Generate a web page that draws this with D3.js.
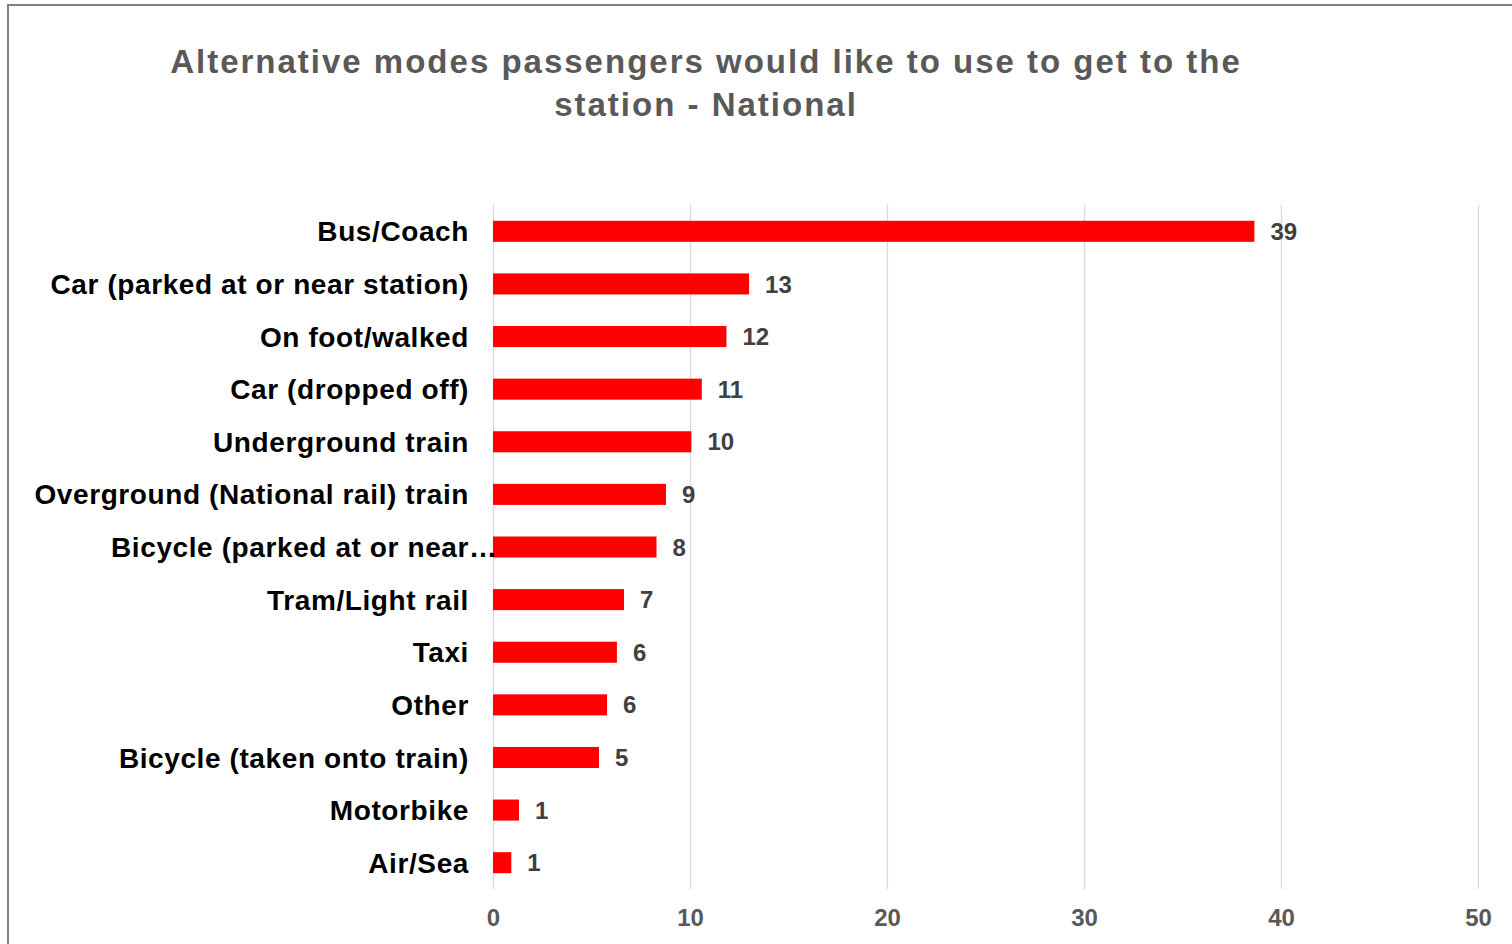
<!DOCTYPE html>
<html>
<head>
<meta charset="utf-8">
<script src="https://cdn.jsdelivr.net/npm/d3@7"></script>
<style>
  html, body { margin: 0; padding: 0; background: #fff; overflow: hidden; }
  svg { display: block; font-family: "Liberation Sans", Arial, sans-serif; }
  .grid line { stroke: #d9d9d9; stroke-width: 1.3; }
  .grid .domain { display: none; }
  .xaxis .domain, .xaxis line { display: none; }
  .xaxis text { font-size: 24px; font-weight: bold; fill: #595959; }
</style>
</head>
<body>
<svg id="chart" width="1512" height="944"></svg>
<script>
// chart data (labels show rounded values)
const categories = [
  "Bus/Coach",
  "Car (parked at or near station)",
  "On foot/walked",
  "Car (dropped off)",
  "Underground train",
  "Overground (National rail) train",
  "Bicycle (parked at or near station)",
  "Tram/Light rail",
  "Taxi",
  "Other",
  "Bicycle (taken onto train)",
  "Motorbike",
  "Air/Sea"
];
const values = [38.65, 13.0, 11.85, 10.6, 10.07, 8.78, 8.3, 6.65, 6.29, 5.79, 5.38, 1.32, 0.93];
const xTicks = [0, 10, 20, 30, 40, 50];
const titleLines = ["Alternative modes passengers would like to use to get to the", "station - National"];

const svg = d3.select("#chart");

// outer frame (only left and top edges are visible)
svg.append("rect")
  .attr("x", 8).attr("y", 5)
  .attr("width", 1540).attr("height", 980)
  .attr("fill", "none")
  .attr("stroke", "#7f7f7f")
  .attr("stroke-width", 2);

svg.append("text")
  .attr("x", 706)
  .attr("y", 73)
  .attr("text-anchor", "middle")
  .attr("font-size", 33)
  .attr("font-weight", "bold")
  .attr("letter-spacing", 2)
  .attr("fill", "#595959")
  .selectAll("tspan")
  .data(titleLines)
  .join("tspan")
  .attr("x", 706)
  .attr("dy", (d, i) => i === 0 ? 0 : 43)
  .text(d => d);

const plotTop = 205, plotBottom = 889;
const x = d3.scaleLinear().domain([0, 50]).range([493, 1478]);
const y = d3.scaleBand()
  .domain(categories)
  .range([plotTop, plotBottom])
  .paddingInner(0.6)
  .paddingOuter(0.3);

// vertical gridlines
svg.append("g")
  .attr("class", "grid")
  .attr("transform", `translate(0,${plotBottom})`)
  .call(d3.axisBottom(x).tickValues(xTicks).tickSize(-(plotBottom - plotTop)).tickFormat(""));

// x tick labels
svg.append("g")
  .attr("class", "xaxis")
  .attr("transform", `translate(0,${plotBottom})`)
  .call(d3.axisBottom(x).tickValues(xTicks).tickSize(0).tickPadding(20))
  .selectAll("text")
  .attr("dy", "0.71em");

// bars
svg.append("g")
  .selectAll("rect")
  .data(categories)
  .join("rect")
  .attr("x", x(0))
  .attr("y", d => y(d))
  .attr("width", (d, i) => x(values[i]) - x(0))
  .attr("height", y.bandwidth())
  .attr("fill", "#ff0000");

// value labels
svg.append("g")
  .selectAll("text")
  .data(categories)
  .join("text")
  .attr("x", (d, i) => x(values[i]) + 16)
  .attr("y", d => y(d) + y.bandwidth() / 2)
  .attr("dy", "0.36em")
  .attr("font-size", 24)
  .attr("font-weight", "bold")
  .attr("fill", "#404040")
  .text((d, i) => d3.format(".0f")(values[i]));

// category labels, long ones cut with an ellipsis like the original
const catG = svg.append("g");
categories.forEach(function(c) {
  const cy = y(c) + y.bandwidth() / 2;
  const cut = c.length > 32;
  catG.append("text")
    .attr("x", 469)
    .attr("y", cy)
    .attr("dy", "0.36em")
    .attr("text-anchor", "end")
    .attr("font-size", 28)
    .attr("font-weight", "bold")
    .attr("letter-spacing", 0.6)
    .attr("fill", "#000")
    .text(cut ? c.slice(0, 26) : c);
  if (cut) {
    catG.append("text")
      .attr("x", 469)
      .attr("y", cy)
      .attr("dy", "0.36em")
      .attr("font-size", 28)
      .attr("font-weight", "bold")
      .attr("fill", "#000")
      .text("\u2026");
  }
});
</script>
</body>
</html>
